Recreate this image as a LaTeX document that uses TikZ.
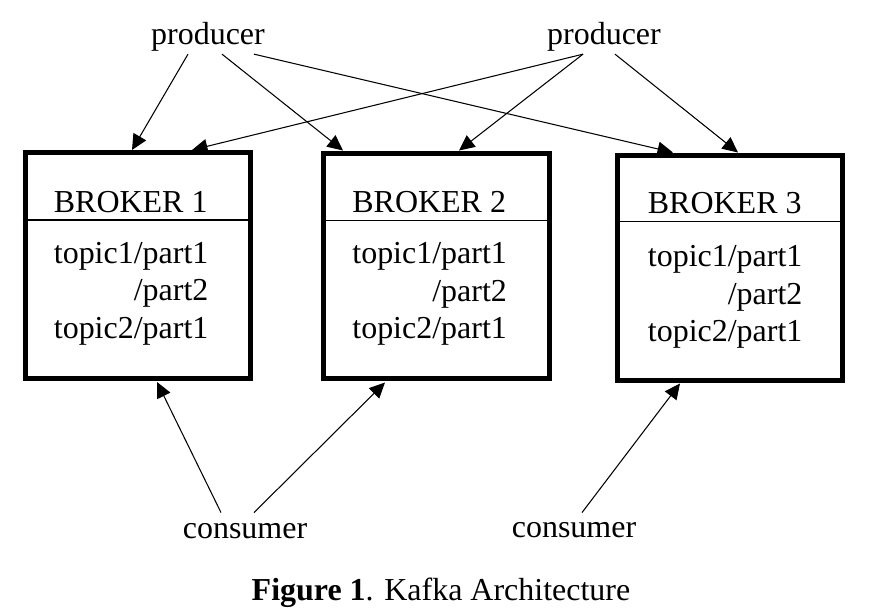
\documentclass[tikz,border=0pt]{standalone}
\usepackage{fontspec}
\setmainfont{Liberation Serif}
\usetikzlibrary{calc,arrows.meta}

\begin{document}
\begin{tikzpicture}[x=0.02cm, y=-0.02cm,
  every node/.style={inner sep=0pt, font=\fontsize{18.2}{21.3}\selectfont},
  broker/.style={draw=black, line width=0.1cm, minimum width=4.52cm, minimum height=4.52cm},
  title/.style={anchor=base west},
  topics/.style={align=left, anchor=base west},
  link/.style={line width=0.6pt, -{Triangle[length=3.1mm, width=2.9mm]}}]
\useasboundingbox (0,0) rectangle (885,614);

% Producers
\node[anchor=base] (p1) at (208,45) {producer};
\node[anchor=base] (p2) at (604,45) {producer};

% Brokers
\node[broker] (b1) at (138,265.5) {};
\node[broker] (b2) at (436.5,266) {};
\node[broker] (b3) at (730,268) {};

\node[title] (h1) at ($(b1.north west)+(31,62)$) {BROKER 1};
\node[title] (h2) at ($(b2.north west)+(31,62)$) {BROKER 2};
\node[title] (h3) at ($(b3.north west)+(33,61)$) {BROKER 3};

\draw[line width=0.6pt] ($(b1.north west)+(0,70)$) -- ($(b1.north east)+(0,70)$);
\draw[line width=0.6pt] ($(b2.north west)+(0,70)$) -- ($(b2.north east)+(0,70)$);
\draw[line width=0.6pt] ($(b3.north west)+(0,69)$) -- ($(b3.north east)+(0,69)$);

\node[topics] (t1) at ($(b1.north west)+(31,188)$) {topic1/part1\\\phantom{topic1}/part2\\topic2/part1};
\node[topics] (t2) at ($(b2.north west)+(31,188)$) {topic1/part1\\\phantom{topic1}/part2\\topic2/part1};
\node[topics] (t3) at ($(b3.north west)+(33,189)$) {topic1/part1\\\phantom{topic1}/part2\\topic2/part1};

% Consumers
\node[anchor=base] (c1) at (245,538) {consumer};
\node[anchor=base] (c2) at (574,537) {consumer};

% Caption
\node[anchor=base] (cap) at (441,600) {\textbf{Figure 1}. Kafka Architecture};

% Producer links
\draw[link] ($(p1.south)+(-20,2)$) -- ($(b1.north)+(-6,0)$);
\draw[link] ($(p1.south)+(14,2)$) -- ($(b2.north)+(-93.5,0)$);
\draw[link] ($(p1.south)+(46,2)$) -- ($(b3.north)+(-57,0)$);
\draw[link] ($(p2.south)+(-21,2)$) -- ($(b1.north)+(54,0)$);
\draw[link] ($(p2.south)+(-21,2)$) -- ($(b2.north)+(22.5,0)$);
\draw[link] ($(p2.south)+(11,2)$) -- ($(b3.north)+(8,0)$);

% Consumer links
\draw[link] ($(c1.north)+(-24,-10)$) -- ($(b1.south)+(19,1)$);
\draw[link] ($(c1.north)+(9,-10)$) -- ($(b2.south)+(-51.5,1)$);
\draw[link] ($(c2.north)+(8,-9)$) -- ($(b3.south)+(-50,0)$);
\end{tikzpicture}
\end{document}
